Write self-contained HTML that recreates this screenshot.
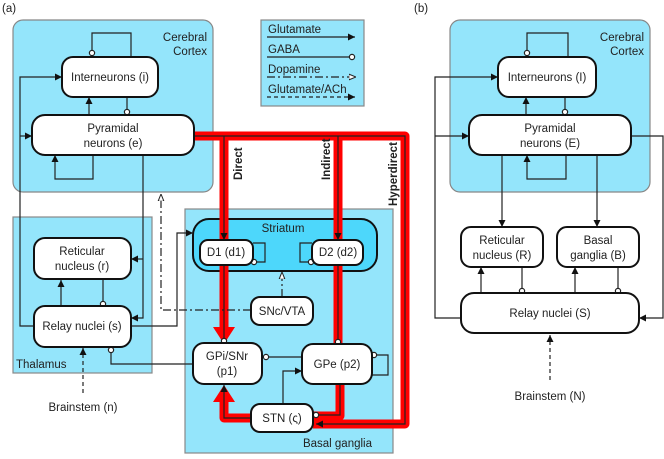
<!DOCTYPE html>
<html><head><meta charset="utf-8"><style>
html,body{margin:0;padding:0;background:#fff;}
svg{display:block;font-family:"Liberation Sans","DejaVu Sans",sans-serif;}
text{font-size:11.5px;fill:#222;}
.b{fill:#fff;stroke:#111;stroke-width:2;}
.l{fill:none;stroke:#222;stroke-width:1.2;}
.r{fill:none;stroke:#f00;stroke-width:9;stroke-linejoin:round;}
.k{fill:none;stroke:#222;stroke-width:1.2;}
.c{fill:#fff;stroke:#222;stroke-width:1.2;}
</style></head><body>
<svg width="664" height="459" viewBox="0 0 664 459">
<defs>
<marker id="a" viewBox="0 0 10 10" refX="10" refY="5" markerWidth="6" markerHeight="6" orient="auto"><path d="M0,0L10,5L0,10z" fill="#111"/></marker>
<marker id="t" viewBox="0 0 10 10" refX="10" refY="5" markerWidth="6" markerHeight="6" orient="auto"><path d="M0,1L10,5L0,9z" fill="#fff" stroke="#222" stroke-width="1.4"/></marker>
</defs>
<text x="2" y="12">(a)</text>
<text x="414" y="12">(b)</text>

<rect x="13" y="20" width="200" height="172" rx="10" fill="#94e5fb" stroke="#888" stroke-width="1.2"/>
<text x="207" y="41" text-anchor="end">Cerebral</text>
<text x="207" y="55" text-anchor="end">Cortex</text>
<rect x="13" y="217" width="139" height="156" fill="#94e5fb" stroke="#888" stroke-width="1.2"/>
<text x="16" y="368">Thalamus</text>
<rect x="185" y="209" width="208" height="244" fill="#94e5fb" stroke="#888" stroke-width="1.2"/>
<text x="372" y="447" text-anchor="end">Basal ganglia</text>
<rect x="193" y="219" width="184" height="52" rx="16" fill="#4dd7fb" stroke="#111" stroke-width="2"/>
<text x="283" y="232" text-anchor="middle">Striatum</text>

<rect x="261" y="20" width="103" height="86" fill="#94e5fb" stroke="#888" stroke-width="1.2"/>
<text x="268" y="33">Glutamate</text>
<line x1="267" y1="37" x2="355" y2="37" class="l" marker-end="url(#a)"/>
<text x="268" y="53">GABA</text>
<line x1="267" y1="57" x2="349" y2="57" class="l"/><circle cx="352" cy="57" r="2.6" class="c"/>
<text x="268" y="73">Dopamine</text>
<line x1="267" y1="77" x2="356" y2="77" class="l" stroke-dasharray="8,3,2,3" marker-end="url(#t)"/>
<text x="268" y="93">Glutamate/ACh</text>
<line x1="267" y1="97" x2="355" y2="97" class="l" stroke-dasharray="4,3" marker-end="url(#a)"/>

<polyline class="r" points="194,136 405,136 405,424 313,424"/>
<polyline class="r" points="224,136 224,240"/>
<polyline class="r" points="224,264 224,330"/>
<polyline class="r" points="338,136 338,240"/>
<polyline class="r" points="338,264 338,344"/>
<polyline class="r" points="340,384 340,416 313,416"/>
<polyline class="r" points="251,418 224,418 224,398"/>
<polygon points="213,327 235,327 224,344" fill="#f00"/>
<polygon points="213,402 235,402 224,385" fill="#f00"/>
<polyline class="k" points="194,136 405,136 405,424 316,424" marker-end="url(#a)"/>
<line x1="224" y1="136" x2="224" y2="240" class="k" marker-end="url(#a)"/>
<line x1="338" y1="136" x2="338" y2="240" class="k" marker-end="url(#a)"/>
<line x1="224" y1="264" x2="224" y2="339" class="k"/><circle cx="224" cy="341" r="2.6" class="c"/>
<line x1="338" y1="264" x2="338" y2="340" class="k"/><circle cx="338" cy="342" r="2.6" class="c"/>
<polyline class="k" points="340,384 340,415 318,415"/><circle cx="316" cy="415" r="2.6" class="c"/>
<polyline class="k" points="251,418 224,418 224,385" marker-end="url(#a)"/>
<text transform="translate(242,180) rotate(-90)" style="font-weight:bold">Direct</text>
<text transform="translate(330,180) rotate(-90)" style="font-weight:bold">Indirect</text>
<text transform="translate(397,206) rotate(-90)" style="font-weight:bold">Hyperdirect</text>

<polyline class="l" points="92,50 92,33 131,33 131,57"/><circle cx="92" cy="53" r="2.6" class="c"/>
<line x1="89" y1="115" x2="89" y2="97" class="l" marker-end="url(#a)"/>
<line x1="127" y1="97" x2="127" y2="109" class="l"/><circle cx="127" cy="112" r="2.6" class="c"/>
<polyline class="l" points="93,155 93,179 55,179 55,155" marker-end="url(#a)"/>
<polyline class="l" points="34,326 20,326 20,77 62,77" marker-end="url(#a)"/>
<line x1="20" y1="136" x2="32" y2="136" class="l" marker-end="url(#a)"/>
<polyline class="l" points="143,155 143,318 131,318" marker-end="url(#a)"/>
<line x1="143" y1="259" x2="131" y2="259" class="l" marker-end="url(#a)"/>
<rect x="62" y="57" width="96" height="40" rx="11" class="b"/>
<text x="110" y="81" text-anchor="middle">Interneurons (i)</text>
<rect x="32" y="115" width="162" height="40" rx="13" class="b"/>
<text x="113" y="132" text-anchor="middle">Pyramidal</text>
<text x="113" y="147" text-anchor="middle">neurons (e)</text>

<line x1="61" y1="306" x2="61" y2="280" class="l" marker-end="url(#a)"/>
<line x1="103" y1="280" x2="103" y2="302" class="l"/><circle cx="103" cy="304" r="2.6" class="c"/>
<polyline class="l" points="131,326 177,326 177,233 193,233" marker-end="url(#a)"/>
<polyline class="l" points="194,364 111,364 111,353"/><circle cx="111" cy="350" r="2.6" class="c"/>
<polyline class="l" stroke-dasharray="8,3,2,3" points="251,310 161,310 161,194" marker-end="url(#t)"/>
<line x1="83" y1="393" x2="83" y2="348" class="l" stroke-dasharray="4,3" marker-end="url(#a)"/>
<text x="83" y="411" text-anchor="middle">Brainstem (n)</text>
<rect x="34" y="238" width="97" height="41" rx="11" class="b"/>
<text x="82" y="255" text-anchor="middle">Reticular</text>
<text x="82" y="270" text-anchor="middle">nucleus (r)</text>
<rect x="34" y="306" width="97" height="41" rx="11" class="b"/>
<text x="82" y="330" text-anchor="middle">Relay nuclei (s)</text>

<polyline class="l" points="253,243 265,243 265,262 256,262"/><circle cx="254" cy="262" r="2.6" class="c"/>
<polyline class="l" points="312,243 300,243 300,262 309,262"/><circle cx="311" cy="262" r="2.6" class="c"/>
<line x1="282" y1="297" x2="282" y2="272" class="l" stroke-dasharray="8,3,2,3" marker-end="url(#t)"/>
<line x1="302" y1="357" x2="268" y2="357" class="l"/><circle cx="266" cy="357" r="2.6" class="c"/>
<polyline class="l" points="283,404 283,371 302,371" marker-end="url(#a)"/>
<polyline class="l" points="375,355 388,355 388,375 372,375"/><circle cx="374" cy="355" r="2.6" class="c"/>
<rect x="200" y="240" width="53" height="25" rx="8" class="b"/>
<text x="226" y="256" text-anchor="middle">D1 (d1)</text>
<rect x="312" y="240" width="51" height="25" rx="8" class="b"/>
<text x="338" y="256" text-anchor="middle">D2 (d2)</text>
<rect x="251" y="297" width="62" height="28" rx="9" class="b"/>
<text x="282" y="315" text-anchor="middle">SNc/VTA</text>
<rect x="193" y="343" width="69" height="41" rx="11" class="b"/>
<text x="227" y="360" text-anchor="middle">GPi/SNr</text>
<text x="227" y="375" text-anchor="middle">(p1)</text>
<rect x="302" y="344" width="70" height="40" rx="11" class="b"/>
<text x="337" y="368" text-anchor="middle">GPe (p2)</text>
<rect x="251" y="404" width="62" height="28" rx="9" class="b"/>
<text x="282" y="422" text-anchor="middle">STN (ς)</text>

<rect x="450" y="20" width="200" height="172" rx="10" fill="#94e5fb" stroke="#888" stroke-width="1.2"/>
<text x="644" y="41" text-anchor="end">Cerebral</text>
<text x="644" y="55" text-anchor="end">Cortex</text>
<polyline class="l" points="527,50 527,33 568,33 568,57"/><circle cx="527" cy="53" r="2.6" class="c"/>
<line x1="526" y1="115" x2="526" y2="97" class="l" marker-end="url(#a)"/>
<line x1="565" y1="97" x2="565" y2="109" class="l"/><circle cx="565" cy="112" r="2.6" class="c"/>
<polyline class="l" points="566,155 566,179 527,179 527,155" marker-end="url(#a)"/>
<polyline class="l" points="462,318 435,318 435,77 498,77" marker-end="url(#a)"/>
<line x1="435" y1="136" x2="469" y2="136" class="l" marker-end="url(#a)"/>
<polyline class="l" points="631,136 663,136 663,318 639,318" marker-end="url(#a)"/>
<line x1="502" y1="155" x2="502" y2="227" class="l" marker-end="url(#a)"/>
<line x1="597" y1="155" x2="597" y2="227" class="l" marker-end="url(#a)"/>
<line x1="481" y1="293" x2="481" y2="267" class="l" marker-end="url(#a)"/>
<line x1="522" y1="267" x2="522" y2="289" class="l"/><circle cx="522" cy="291" r="2.6" class="c"/>
<line x1="575" y1="293" x2="575" y2="267" class="l" marker-end="url(#a)"/>
<line x1="618" y1="267" x2="618" y2="289" class="l"/><circle cx="618" cy="291" r="2.6" class="c"/>
<line x1="550" y1="380" x2="550" y2="335" class="l" stroke-dasharray="4,3" marker-end="url(#a)"/>
<text x="550" y="400" text-anchor="middle">Brainstem (N)</text>
<rect x="498" y="57" width="98" height="40" rx="11" class="b"/>
<text x="547" y="81" text-anchor="middle">Interneurons (I)</text>
<rect x="469" y="115" width="162" height="40" rx="13" class="b"/>
<text x="550" y="132" text-anchor="middle">Pyramidal</text>
<text x="550" y="147" text-anchor="middle">neurons (E)</text>
<rect x="461" y="227" width="82" height="40" rx="10" class="b"/>
<text x="502" y="244" text-anchor="middle">Reticular</text>
<text x="502" y="259" text-anchor="middle">nucleus (R)</text>
<rect x="557" y="227" width="82" height="40" rx="10" class="b"/>
<text x="598" y="244" text-anchor="middle">Basal</text>
<text x="598" y="259" text-anchor="middle">ganglia (B)</text>
<rect x="461" y="293" width="178" height="40" rx="13" class="b"/>
<text x="550" y="317" text-anchor="middle">Relay nuclei (S)</text>
</svg>
</body></html>
